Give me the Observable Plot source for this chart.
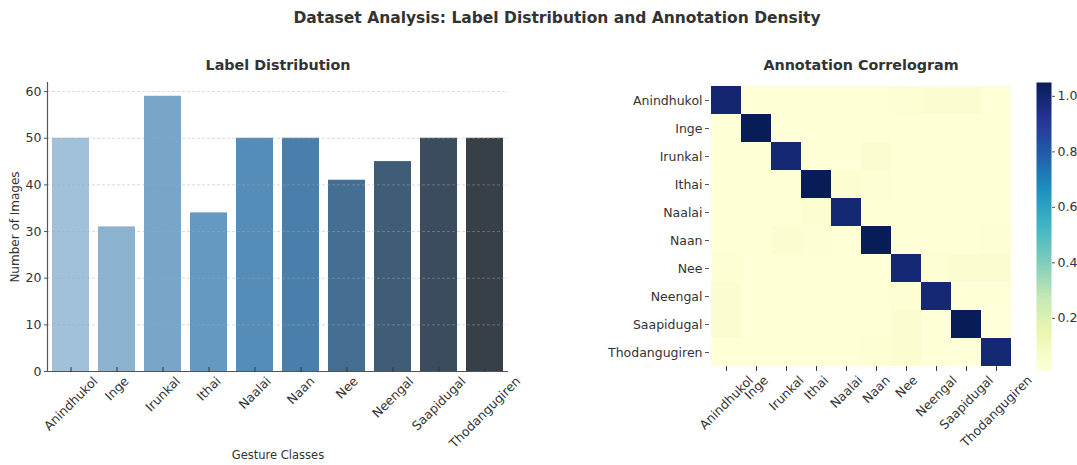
<!DOCTYPE html>
<html>
<head>
<meta charset="utf-8">
<script src="https://cdn.jsdelivr.net/npm/d3@7"></script>
<script src="https://cdn.jsdelivr.net/npm/@observablehq/plot@0.6"></script>
<style>
  body { margin: 0; background: #fff; font-family: "DejaVu Sans", sans-serif; }
  #root { position: relative; width: 1077px; height: 465px; overflow: hidden; background: #fff; }
  #root svg { position: absolute; top: 0; overflow: visible; }
  .lbl { position: absolute; white-space: nowrap; color: #333; transform: translate(-50%, -50%); line-height: 1; }
  .bold { font-weight: bold; }
</style>
</head>
<body>
<div id="root"></div>
<script>
// Gesture classes and number of images per class
const classes = ["Anindhukol", "Inge", "Irunkal", "Ithai", "Naalai", "Naan", "Nee", "Neengal", "Saapidugal", "Thodangugiren"];
const counts = [50, 31, 59, 34, 50, 50, 41, 45, 50, 50];
const barColors = ["#a0c1d9", "#8bb2cf", "#79a6c8", "#6699c1", "#568cb8", "#4a7fab", "#446f92", "#405d78", "#3c4c5f", "#373f47"];
const yTicks = [0, 10, 20, 30, 40, 50, 60];

// Annotation density between classes (rows / columns follow `classes`)
const density = [
  [1.00, 0.02, 0.02, 0.02, 0.02, 0.02, 0.03, 0.04, 0.04, 0.02],
  [0.02, 1.05, 0.02, 0.02, 0.02, 0.02, 0.02, 0.02, 0.02, 0.02],
  [0.02, 0.02, 0.99, 0.02, 0.02, 0.04, 0.02, 0.02, 0.02, 0.02],
  [0.02, 0.02, 0.02, 1.05, 0.035, 0.03, 0.02, 0.02, 0.02, 0.02],
  [0.02, 0.02, 0.02, 0.035, 0.99, 0.02, 0.02, 0.02, 0.02, 0.02],
  [0.02, 0.02, 0.04, 0.03, 0.02, 1.05, 0.02, 0.02, 0.02, 0.03],
  [0.03, 0.02, 0.02, 0.02, 0.02, 0.02, 0.99, 0.03, 0.04, 0.04],
  [0.04, 0.02, 0.02, 0.02, 0.02, 0.02, 0.03, 0.99, 0.02, 0.02],
  [0.04, 0.02, 0.02, 0.02, 0.02, 0.02, 0.04, 0.02, 1.05, 0.012],
  [0.02, 0.02, 0.02, 0.02, 0.02, 0.03, 0.04, 0.02, 0.012, 0.99]
];
const cbTicks = [0.2, 0.4, 0.6, 0.8, 1.0];
// YlGnBu colour stops
const ylgnbu = ["#ffffd9", "#edf8b1", "#c7e9b4", "#7fcdbb", "#41b6c4", "#1d91c0", "#225ea8", "#253494", "#081d58"];

const root = document.getElementById("root");
const FONT = "DejaVu Sans";
const ink = "#333";

const ctx = document.createElement("canvas").getContext("2d");
function textWidth(s, size) {
  ctx.font = `${size}px "${FONT}"`;
  return ctx.measureText(s).width;
}

// Labels rotated 45°, each centred on its tick and hanging below the axis
function slantedLabels(labels, size, gap) {
  return labels.map(c => {
    const half = (textWidth(c, size) + size * 1.05) * Math.SQRT1_2 / 2;
    return Plot.text([c], {
      x: d => d, frameAnchor: "bottom", rotate: -45, textAnchor: "middle",
      lineAnchor: "middle", dy: gap + half, fontSize: size, fill: ink
    });
  });
}

// Short inward tick marks along the bottom edge
const inwardTick = { draw(context, l) { context.moveTo(0, 0); context.lineTo(0, -l); } };
function bottomTicks(labels) {
  return Plot.vector(labels, { x: d => d, frameAnchor: "bottom", length: 4, anchor: "start", shape: inwardTick, stroke: ink, strokeWidth: 1 });
}

function place(el, left) {
  el.style.left = left + "px";
  root.appendChild(el);
}
function label(text, x, y, size, cls = "", rotate = 0) {
  const d = document.createElement("div");
  d.className = "lbl " + cls;
  d.textContent = text;
  d.style.left = x + "px";
  d.style.top = y + "px";
  d.style.fontSize = size + "px";
  if (rotate) d.style.transform = `translate(-50%, -50%) rotate(${rotate}deg)`;
  root.appendChild(d);
}

// ---- Label distribution (bar chart) ----
const barTable = classes.map((name, i) => ({ name, count: counts[i] }));
const barChart = Plot.plot({
  width: 540, height: 465,
  marginLeft: 47, marginRight: 32, marginTop: 82, marginBottom: 94,
  style: { fontFamily: FONT, fontSize: "12.5px", color: ink, background: "transparent" },
  x: { domain: classes, paddingInner: 0.2, paddingOuter: 0.1, axis: null },
  y: { domain: [0, 61.95], axis: null },
  color: { domain: classes, range: barColors },
  marks: [
    Plot.barY(barTable, { x: "name", y: "count", fill: "name" }),
    Plot.gridY(yTicks.slice(1), { stroke: "#a8a8a8", strokeOpacity: 0.55, strokeDasharray: "3,2", strokeWidth: 0.8 }),
    Plot.frame({ anchor: "left", stroke: "#555", strokeWidth: 1.2 }),
    Plot.ruleY([0], { stroke: "#555", strokeWidth: 1.2 }),
    Plot.axisY(yTicks, { tickSize: 3, tickPadding: 3, fontSize: 12.5, stroke: "#555", fill: ink, label: null }),
    bottomTicks(classes),
    ...slantedLabels(classes, 12.5, 3)
  ]
});
place(barChart, 0);

// ---- Annotation correlogram (heatmap) ----
const cells = classes.flatMap((row, i) => classes.map((col, j) => ({ row, col, value: density[i][j] })));
const [vmin, vmax] = d3.extent(cells, d => d.value);
const colorDomain = ylgnbu.map((_, i) => vmin + (i / (ylgnbu.length - 1)) * (vmax - vmin));
const colorScale = { type: "linear", domain: colorDomain, range: ylgnbu, interpolate: "rgb" };

const heat = Plot.plot({
  width: 430, height: 465,
  marginLeft: 109, marginRight: 17, marginTop: 82, marginBottom: 95,
  style: { fontFamily: FONT, fontSize: "12.5px", color: ink, background: "transparent" },
  x: { domain: classes, padding: 0, axis: null },
  y: { domain: classes, padding: 0, axis: null },
  color: colorScale,
  marks: [
    Plot.cell(cells, { x: "col", y: "row", fill: "value" }),
    Plot.axisY(classes, { tickSize: 4, tickPadding: 3, fontSize: 12.5, stroke: "#555", fill: ink, label: null }),
    bottomTicks(classes),
    ...slantedLabels(classes, 12.5, 3)
  ]
});
place(heat, 600);

// ---- Colour bar ----
const colorbar = Plot.plot({
  width: 57, height: 465,
  marginLeft: 16, marginRight: 26, marginTop: 82, marginBottom: 95,
  style: { fontFamily: FONT, fontSize: "12.5px", color: ink, background: "transparent" },
  x: { domain: [0, 1], axis: null },
  y: { domain: [vmin, vmax], axis: null },
  color: colorScale,
  marks: [
    Plot.raster({ x1: 0, x2: 1, y1: vmin, y2: vmax, width: 1, height: 288, fill: (x, y) => y, imageRendering: "auto" }),
    Plot.axisY(cbTicks, { anchor: "right", tickSize: 3, tickPadding: 3, fontSize: 12.5, stroke: "#555", fill: ink, tickFormat: ".1f", label: null })
  ]
});
place(colorbar, 1020);

// ---- Titles ----
label("Dataset Analysis: Label Distribution and Annotation Density", 557, 19, 15.5, "bold");
label("Label Distribution", 278, 65, 14.3, "bold");
label("Annotation Correlogram", 861, 65, 14.3, "bold");
label("Number of Images", 15, 227, 12, "", -90);
label("Gesture Classes", 278, 456, 11.5);
</script>
</body>
</html>
